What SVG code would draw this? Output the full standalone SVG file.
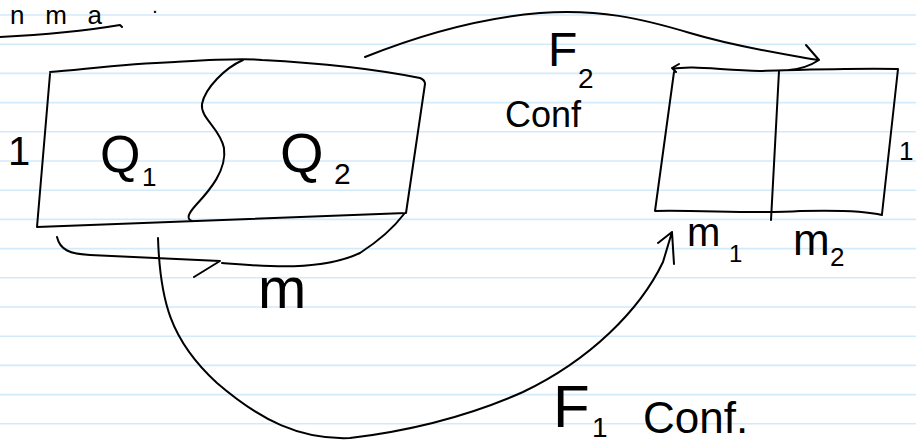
<svg xmlns="http://www.w3.org/2000/svg" width="916" height="445" viewBox="0 0 916 445">
<style>
.rule{stroke:#d3eafa;stroke-width:1.6}
.ink{fill:none;stroke:#000;stroke-width:2;stroke-linecap:round;stroke-linejoin:round}
.t{font-family:"Liberation Sans",Arial,sans-serif;fill:#000}
</style>
<rect width="916" height="445" fill="#fff"/>
<g id="paper-lines">
<line class="rule" x1="0" y1="15" x2="916" y2="15"/>
<line class="rule" x1="0" y1="44.2" x2="916" y2="44.2"/>
<line class="rule" x1="0" y1="73.4" x2="916" y2="73.4"/>
<line class="rule" x1="0" y1="102.6" x2="916" y2="102.6"/>
<line class="rule" x1="0" y1="131.8" x2="916" y2="131.8"/>
<line class="rule" x1="0" y1="161" x2="916" y2="161"/>
<line class="rule" x1="0" y1="190.2" x2="916" y2="190.2"/>
<line class="rule" x1="0" y1="219.4" x2="916" y2="219.4"/>
<line class="rule" x1="0" y1="248.6" x2="916" y2="248.6"/>
<line class="rule" x1="0" y1="277.8" x2="916" y2="277.8"/>
<line class="rule" x1="0" y1="307" x2="916" y2="307"/>
<line class="rule" x1="0" y1="336.2" x2="916" y2="336.2"/>
<line class="rule" x1="0" y1="365.4" x2="916" y2="365.4"/>
<line class="rule" x1="0" y1="394.6" x2="916" y2="394.6"/>
<line class="rule" x1="0" y1="423.8" x2="916" y2="423.8"/>
</g>
<g id="title">
<text class="t" x="10" y="24" font-size="26" textLength="92" lengthAdjust="spacing">nma</text>
<text class="t" x="153" y="13" font-size="14" font-weight="bold">.</text>
<path class="ink" d="M0,37 C40,35 90,30 120,25 L122,27"/>
</g>
<g id="left-box">
<path class="ink" d="M50,72 C80,70 120,64 175,62 C210,60 240,58 262,60 C320,63 380,70 420,78 Q425,80 425,84 L406,213 L37,227 L50,74"/>
<path class="ink" d="M243,60 C225,68 205,88 202,104 C200,118 220,128 224,148 C227,170 210,190 196,205 C188,214 186,219 192,221"/>
<text class="t" x="100" y="172" font-size="52">Q</text>
<text class="t" x="142" y="186" font-size="26">1</text>
<text class="t" x="280" y="172" font-size="56">Q</text>
<text class="t" x="334" y="184" font-size="30">2</text>
<text class="t" x="8" y="165" font-size="40">1</text>
</g>
<g id="right-box">
<path class="ink" d="M673,69 C690,65 720,70 760,71 C800,70 850,68 898,69 L882,214 M674,72 L655,211 C700,210 760,214 800,211 C840,210 870,212 882,215 M779,71 L771,220 M679,64 L672,68 L676,72"/>
<text class="t" x="899" y="160" font-size="26">1</text>
<text class="t" x="687" y="246" font-size="40">m</text>
<text class="t" x="729" y="262" font-size="24">1</text>
<text class="t" x="793" y="255" font-size="44">m</text>
<text class="t" x="830" y="266" font-size="26">2</text>
</g>
<g id="connectors">
<path class="ink" d="M365,57 C420,35 480,18 540,13 C600,9 640,18 690,33 C740,48 790,55 818,60 M806,45 L819,60 C810,66 800,69 789,70"/>
<path class="ink" d="M158,238 C160,300 170,340 217,383 C260,420 300,440 350,438 C400,432 460,420 523,392 C590,360 640,310 663,262 L672,232 M658,243 L672,232 L674,264"/>
<path class="ink" d="M57,237 C60,250 70,254 90,255 L220,261 L194,277 M222,263 C260,266 320,272 360,253 C380,240 395,226 404,214"/>
</g>
<g id="labels">
<text class="t" x="548" y="66" font-size="48">F</text>
<text class="t" x="578" y="88" font-size="28">2</text>
<text class="t" x="505" y="127" font-size="36">Conf</text>
<text class="t" x="258" y="308" font-size="58">m</text>
<text class="t" x="553" y="427" font-size="60">F</text>
<text class="t" x="592" y="437" font-size="28">1</text>
<text class="t" x="643" y="433" font-size="44">Conf.</text>
</g>
</svg>
